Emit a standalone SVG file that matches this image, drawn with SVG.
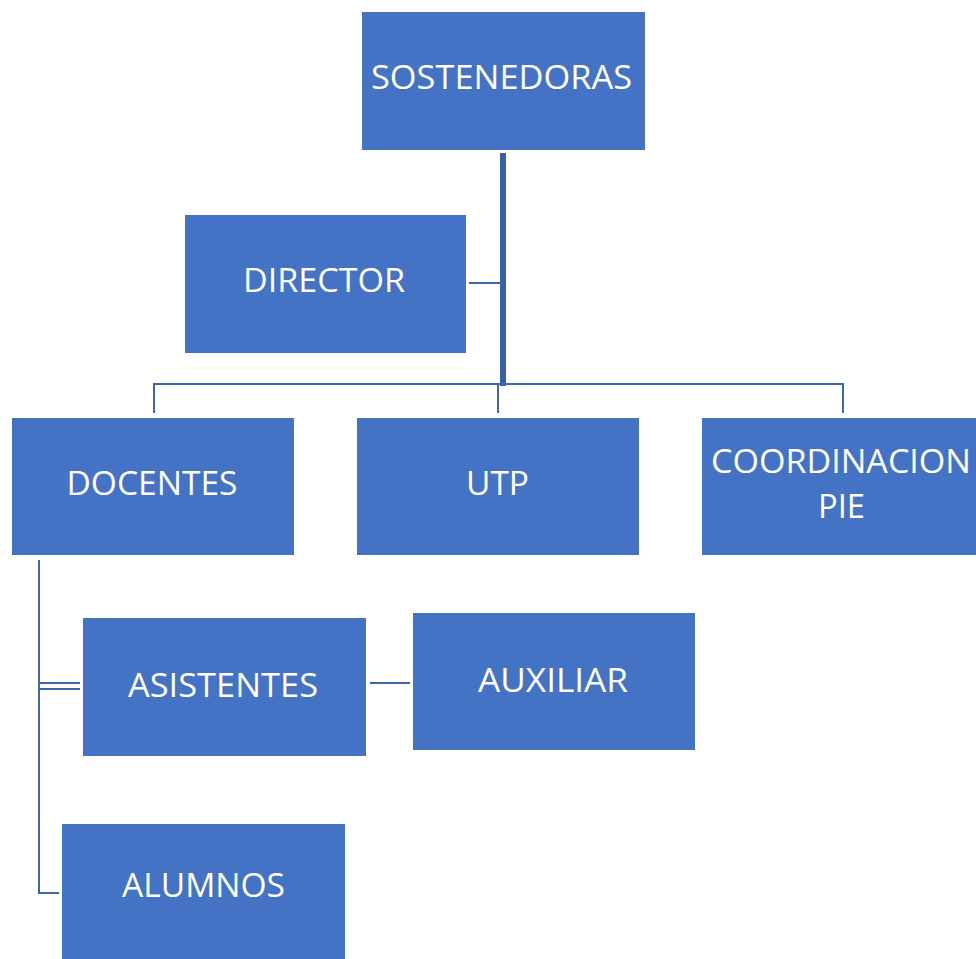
<svg xmlns="http://www.w3.org/2000/svg" width="976" height="959" viewBox="0 0 976 959">
<style>
.box{fill:#4472C4;}
.lbl{fill:#fff;font-family:"Open Sans","Noto Sans","Liberation Sans",sans-serif;font-size:32px;text-anchor:middle;}
.ln{stroke:#3F66B2;stroke-width:2;fill:none;}
.thick{stroke:#3A60A8;stroke-width:6;fill:none;}
</style>
<rect width="976" height="959" fill="#fff"/>
<g id="connectors">
<line class="thick" x1="503" y1="153" x2="503" y2="386"/>
<line class="ln" x1="469" y1="283" x2="503" y2="283"/>
<polyline class="ln" points="154,413 154,384 843,384 843,413"/>
<line class="ln" x1="498" y1="384" x2="498" y2="413"/>
<polyline class="ln" points="39,560 39,893 59,893"/>
<line class="ln" x1="39" y1="683" x2="80" y2="683"/>
<line class="ln" x1="39" y1="689" x2="80" y2="689"/>
<line class="ln" x1="370" y1="683" x2="410" y2="683"/>
</g>
<g id="sostenedoras"><rect class="box" x="362" y="12" width="283" height="138"/><text class="lbl" x="501.5" y="89" textLength="261" lengthAdjust="spacingAndGlyphs">SOSTENEDORAS</text></g>
<g id="director"><rect class="box" x="185" y="215" width="281" height="138"/><text class="lbl" x="324" y="292" textLength="162" lengthAdjust="spacingAndGlyphs">DIRECTOR</text></g>
<g id="docentes"><rect class="box" x="12" y="418" width="282" height="137"/><text class="lbl" x="152" y="495" textLength="171" lengthAdjust="spacingAndGlyphs">DOCENTES</text></g>
<g id="utp"><rect class="box" x="357" y="418" width="282" height="137"/><text class="lbl" x="497.5" y="495" textLength="63" lengthAdjust="spacingAndGlyphs">UTP</text></g>
<g id="coordinacion"><rect class="box" x="702" y="418" width="280" height="137"/><text class="lbl" x="841" y="473" textLength="260" lengthAdjust="spacingAndGlyphs">COORDINACION</text><text class="lbl" x="841.5" y="518" textLength="47" lengthAdjust="spacingAndGlyphs">PIE</text></g>
<g id="asistentes"><rect class="box" x="83" y="618" width="283" height="138"/><text class="lbl" x="223" y="697" textLength="190" lengthAdjust="spacingAndGlyphs">ASISTENTES</text></g>
<g id="auxiliar"><rect class="box" x="413" y="613" width="282" height="137"/><text class="lbl" x="553" y="692" textLength="150" lengthAdjust="spacingAndGlyphs">AUXILIAR</text></g>
<g id="alumnos"><rect class="box" x="62" y="824" width="283" height="140"/><text class="lbl" x="203.5" y="897" textLength="163" lengthAdjust="spacingAndGlyphs">ALUMNOS</text></g>
</svg>
